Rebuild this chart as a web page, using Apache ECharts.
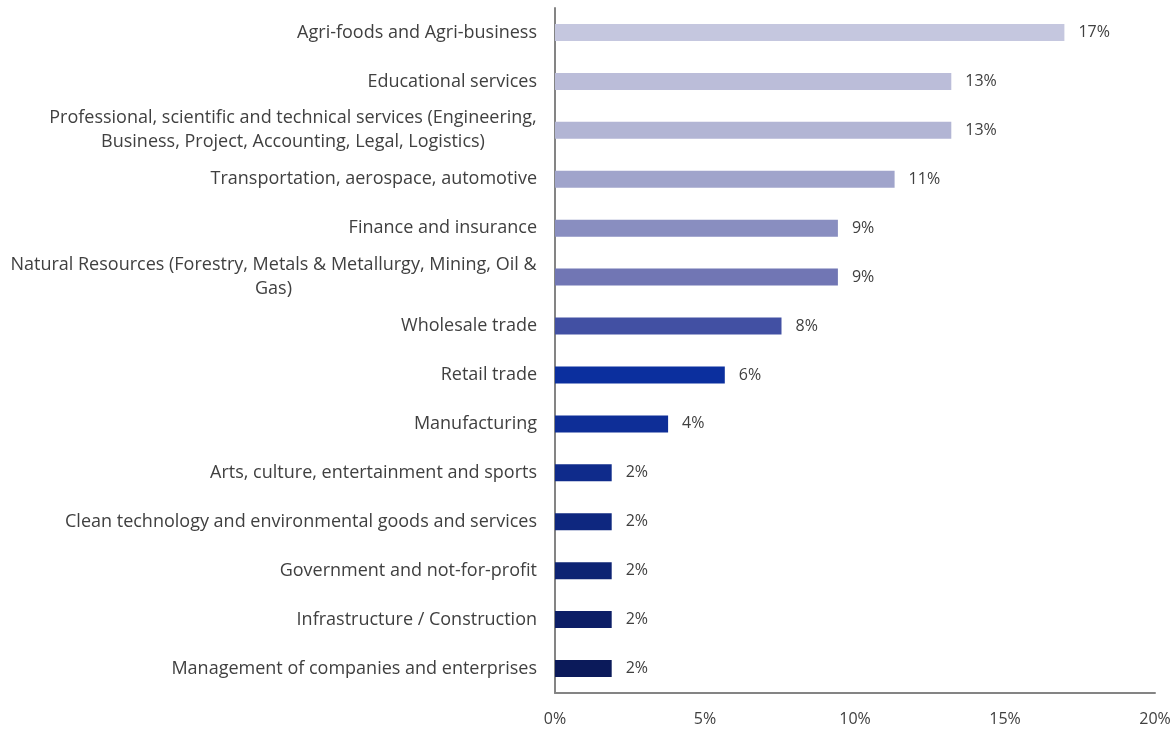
<!DOCTYPE html>
<html>
<head>
<meta charset="utf-8">
<script src="https://cdn.jsdelivr.net/npm/echarts@6/dist/echarts.min.js"></script>
<style>
  html, body { margin: 0; padding: 0; background: #ffffff; }
  #chart { width: 1174px; height: 731px; }
</style>
</head>
<body>
<div id="chart"></div>
<script>
// Sectors, listed top to bottom
const sectors = [
  'Agri-foods and Agri-business',
  'Educational services',
  'Professional, scientific and technical services (Engineering,\nBusiness, Project, Accounting, Legal, Logistics)',
  'Transportation, aerospace, automotive',
  'Finance and insurance',
  'Natural Resources (Forestry, Metals & Metallurgy, Mining, Oil &\nGas)',
  'Wholesale trade',
  'Retail trade',
  'Manufacturing',
  'Arts, culture, entertainment and sports',
  'Clean technology and environmental goods and services',
  'Government and not-for-profit',
  'Infrastructure / Construction',
  'Management of companies and enterprises'
];

// Share of respondents per sector (%)
const shares = [16.98, 13.21, 13.21, 11.32, 9.43, 9.43, 7.55, 5.66, 3.77, 1.89, 1.89, 1.89, 1.89, 1.89];

// Bar fill per sector, light lavender down to deep navy
const barColors = [
  '#c5c7df', '#bbbdd9', '#b2b5d4', '#a0a4cb', '#898ec0', '#7176b4', '#4250a3',
  '#0b2f9e', '#0e2e97', '#0f2b8b', '#0e277f', '#0d2373', '#0c1e66', '#0b1a5a'
];

// Value axis ticks
const xTicks = [0, 5, 10, 15, 20];

const catFontSize = 18;
const catLineHeight = 24;
const textColor = '#404040';

// Measure text so wrapped category labels can be centred as a block
const measureCtx = document.createElement('canvas').getContext('2d');
measureCtx.font = catFontSize + 'px "Open Sans"';
function textWidth(s) { return Math.ceil(measureCtx.measureText(s).width); }

const chart = echarts.init(document.getElementById('chart'), null, { renderer: 'canvas' });

// Reverse so the first sector sits at the top of the category axis
const cats = sectors.slice().reverse();
const vals = shares.slice().reverse();
const cols = barColors.slice().reverse();

const richStyles = {};
cats.forEach((c, i) => {
  if (c.indexOf('\n') >= 0) {
    const lines = c.split('\n');
    const w = Math.max.apply(null, lines.map(textWidth));
    richStyles['m' + i] = {
      width: w, align: 'center', fontSize: catFontSize, fontFamily: 'Open Sans',
      color: textColor, lineHeight: catLineHeight
    };
  }
});

chart.setOption({
  animation: false,
  grid: { left: 555, right: 19, top: 8, bottom: 38, containLabel: false },
  xAxis: {
    type: 'value',
    min: 0,
    max: 20,
    interval: 5,
    axisLine: { show: true, lineStyle: { color: '#848484', width: 2 } },
    axisTick: { show: false },
    splitLine: { show: false },
    axisLabel: {
      margin: 18,
      color: textColor,
      fontSize: 16,
      fontFamily: 'Open Sans',
      customValues: xTicks,
      formatter: v => v + '%'
    }
  },
  yAxis: {
    type: 'category',
    data: cats,
    axisLine: { show: true, lineStyle: { color: '#848484', width: 2 } },
    axisTick: { show: false },
    axisLabel: {
      margin: 18,
      color: textColor,
      fontSize: catFontSize,
      fontFamily: 'Open Sans',
      lineHeight: catLineHeight,
      align: 'right',
      rich: richStyles,
      formatter: (value, idx) => {
        if (value.indexOf('\n') >= 0) {
          return value.split('\n').map(l => '{m' + idx + '|' + l + '}').join('\n');
        }
        return value;
      }
    }
  },
  series: [{
    type: 'bar',
    barWidth: 17,
    data: vals.map((v, i) => ({ value: v, itemStyle: { color: cols[i] } })),
    label: {
      show: true,
      position: 'right',
      distance: 14,
      color: textColor,
      fontSize: 16,
      fontFamily: 'Open Sans',
      formatter: p => Math.round(p.value) + '%'
    }
  }]
});
</script>
</body>
</html>
